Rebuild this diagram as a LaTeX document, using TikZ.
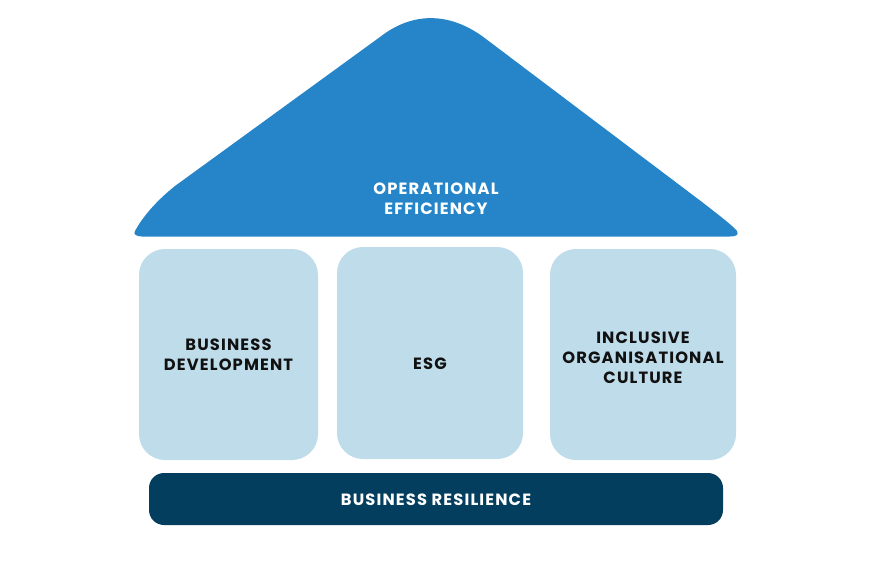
\documentclass[tikz,border=0pt]{standalone}
\usepackage{fontspec}
\setmainfont{Poppins}
\definecolor{roofblue}{HTML}{2585C8}
\definecolor{pillar}{HTML}{BEDCE9}
\definecolor{basenavy}{HTML}{043E5F}
\definecolor{darktext}{HTML}{111111}
\tikzset{
  pillarbox/.style={fill=pillar, rounded corners=26pt, inner sep=0pt},
  lbl/.style={align=center, font=\fontsize{16.3}{20}\selectfont\bfseries\addfontfeature{LetterSpace=7}, inner sep=0pt},
}
\begin{document}
\begin{tikzpicture}[x=1pt,y=-1pt]
\useasboundingbox (0,0) rectangle (890,582);
% roof
\fill[roofblue] (142,236.5) .. controls (136,236.5) and (133,234) .. (135,231)
  .. controls (142,218) and (155,202) .. (175,186)
  -- (380,37) .. controls (412,12) and (448,12) .. (482,36)
  -- (702,202) .. controls (720,216) and (733,226) .. (737,231)
  .. controls (739,235) and (736,236.5) .. (730,236.5) -- cycle;
\node[lbl, text=white] (roof) at (436,198.5) {OPERATIONAL\\EFFICIENCY};
% pillars
\node[pillarbox, minimum width=179pt, minimum height=211pt] (p1) at (228.5,354.5) {};
\node[pillarbox, minimum width=186pt, minimum height=212pt] (p2) at (430,353) {};
\node[pillarbox, minimum width=186pt, minimum height=211pt] (p3) at (643,354.5) {};
\node[lbl, text=darktext] (t1) at (228.5,355) {BUSINESS\\DEVELOPMENT};
\node[lbl, text=darktext] (t2) at (430,364) {ESG};
\node[lbl, text=darktext] (t3) at (643,357.5) {INCLUSIVE\\ORGANISATIONAL\\CULTURE};
% base
\node[fill=basenavy, rounded corners=15pt, minimum width=574pt, minimum height=52pt, inner sep=0pt] (base) at (436,499) {};
\node[lbl, text=white] (t4) at (436,500) {BUSINESS RESILIENCE};
\end{tikzpicture}
\end{document}
